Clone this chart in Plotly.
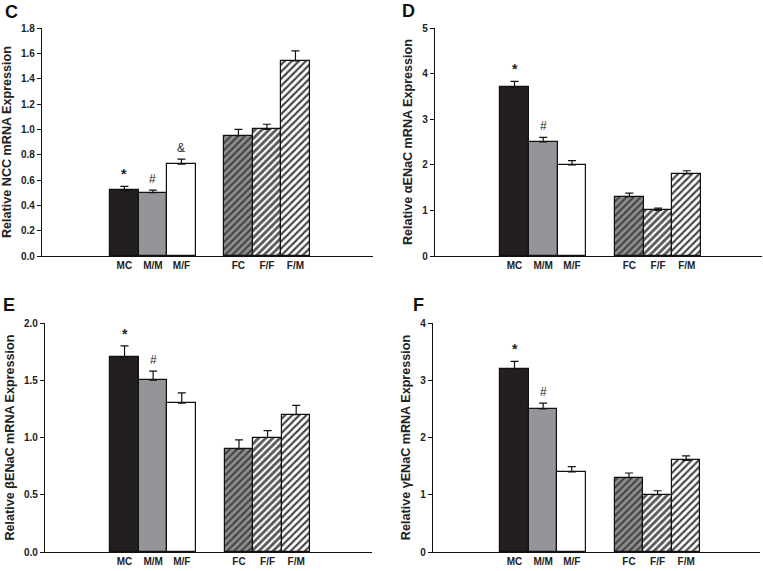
import plotly.graph_objects as go

# ---------------- data ----------------
groups = ["MC", "M/M", "M/F", "FC", "F/F", "F/M"]

ncc_mean = [0.52, 0.50, 0.725, 0.95, 1.00, 1.54]
ncc_err = [0.03, 0.02, 0.04, 0.05, 0.04, 0.08]

aenac_mean = [3.70, 2.50, 2.00, 1.30, 1.00, 1.80]
aenac_err = [0.13, 0.10, 0.09, 0.08, 0.05, 0.07]

benac_mean = [1.70, 1.50, 1.30, 0.90, 1.00, 1.20]
benac_err = [0.10, 0.08, 0.09, 0.08, 0.06, 0.08]

genac_mean = [3.20, 2.50, 1.40, 1.30, 1.00, 1.60]
genac_err = [0.13, 0.10, 0.09, 0.08, 0.07, 0.08]

panel_letters = ["C", "D", "E", "F"]
y_titles = ["Relative NCC mRNA Expression",
            "Relative \u03b1ENaC mRNA Expression",
            "Relative \u03b2ENaC mRNA Expression",
            "Relative \u03b3ENaC mRNA Expression"]
y_max = [1.8, 5, 2.0, 4]
y_dtick = [0.2, 1, 0.5, 1]
y_fmt = [".1f", "d", ".1f", "d"]
# significance marks: (group, symbol)
marks = [[("MC", "*"), ("M/M", "#"), ("M/F", "&")],
         [("MC", "*"), ("M/M", "#")],
         [("MC", "*"), ("M/M", "#")],
         [("MC", "*"), ("M/M", "#")]]

# ---------------- styling ----------------
W, H = 763, 571
FONT = "Liberation Sans, Arial, sans-serif"
bg_colors = ["#231f20", "#939598", "#ffffff", "#8e8e90", "#58585a", "#ffffff"]
fg_colors = ["#231f20", "#939598", "#ffffff", "#1e1e1e", "#141414", "#141414"]
shapes = ["", "", "", "/", "/", "/"]

# pixel boxes of each plot area (left, right, top, bottom)
boxes = [(42, 373, 28, 256), (435, 762, 28, 256),
         (45, 372, 323, 552), (433, 760, 323, 552)]
xranges = [[-2.89, 8.72], [-2.77, 8.62], [-2.78, 8.65], [-2.85, 8.58]]
letter_pos = [(11, 12), (408, 11), (9, 305), (418, 305)]

xpos = [i + (1 if i >= 3 else 0) for i in range(len(groups))]

means = [ncc_mean, aenac_mean, benac_mean, genac_mean]
errs = [ncc_err, aenac_err, benac_err, genac_err]

fig = go.Figure()
annotations = []
for k in range(4):
    xa = "x" if k == 0 else f"x{k+1}"
    ya = "y" if k == 0 else f"y{k+1}"
    fig.add_trace(go.Bar(
        x=xpos, y=means[k], width=1.0, xaxis=xa, yaxis=ya,
        marker=dict(color=bg_colors,
                    line=dict(color="#111111", width=1.2),
                    pattern=dict(shape=shapes, fgcolor=fg_colors, fgopacity=1,
                                 bgcolor=bg_colors, size=5, solidity=0.42)),
        error_y=dict(type="data", array=errs[k], arrayminus=[0] * 6,
                     symmetric=False, color="#111111", thickness=1.2, width=4),
        showlegend=False, hoverinfo="skip",
    ))
    l, r, t, b = boxes[k]
    xd = [l / W, r / W]
    yd = [1 - b / H, 1 - t / H]
    fig.layout[("xaxis" if k == 0 else f"xaxis{k+1}")] = dict(
        domain=xd, range=xranges[k], anchor=ya, automargin=False,
        tickvals=xpos, ticktext=groups, ticks="",
        showline=True, linecolor="#111111", linewidth=1.2,
        showgrid=False, zeroline=False, fixedrange=True,
        tickfont=dict(family=FONT, size=10, color="#222222", weight="bold"),
    )
    fig.layout[("yaxis" if k == 0 else f"yaxis{k+1}")] = dict(
        domain=yd, range=[0, y_max[k]], anchor=xa, automargin=False,
        dtick=y_dtick[k], tick0=0, tickformat=y_fmt[k],
        ticks="outside", ticklen=4, tickwidth=1.2, tickcolor="#111111",
        showline=True, linecolor="#111111", linewidth=1.2,
        showgrid=False, zeroline=False, fixedrange=True,
        tickfont=dict(family=FONT, size=10, color="#222222", weight="bold"),
        title=dict(text=y_titles[k], standoff=6,
                   font=dict(family=FONT, size=12.6, color="#222222", weight="bold")),
    )
    # significance marks
    for g, sym in marks[k]:
        i = groups.index(g)
        annotations.append(dict(
            x=xpos[i], y=means[k][i] + errs[k][i], xref=xa, yref=ya,
            text=sym, showarrow=False, yanchor="bottom", yshift=2,
            font=dict(family=FONT, size=14 if sym == "*" else 12, color="#222222",
                      weight="bold" if sym == "*" else "normal"),
        ))
    # panel letters
    lx, ly = letter_pos[k]
    annotations.append(dict(
        x=lx / W, y=1 - ly / H, xref="paper", yref="paper",
        text=panel_letters[k], showarrow=False, xanchor="center", yanchor="middle",
        font=dict(family=FONT, size=18, color="#111111", weight="bold"),
    ))

fig.update_layout(
    width=W, height=H, margin=dict(l=0, r=0, t=0, b=0),
    paper_bgcolor="white", plot_bgcolor="white",
    bargap=0, annotations=annotations,
)

fig.write_html("out.html", config={"displayModeBar": False},
               post_script="document.body.style.margin='0';"
                           "document.body.style.overflow='hidden';")
